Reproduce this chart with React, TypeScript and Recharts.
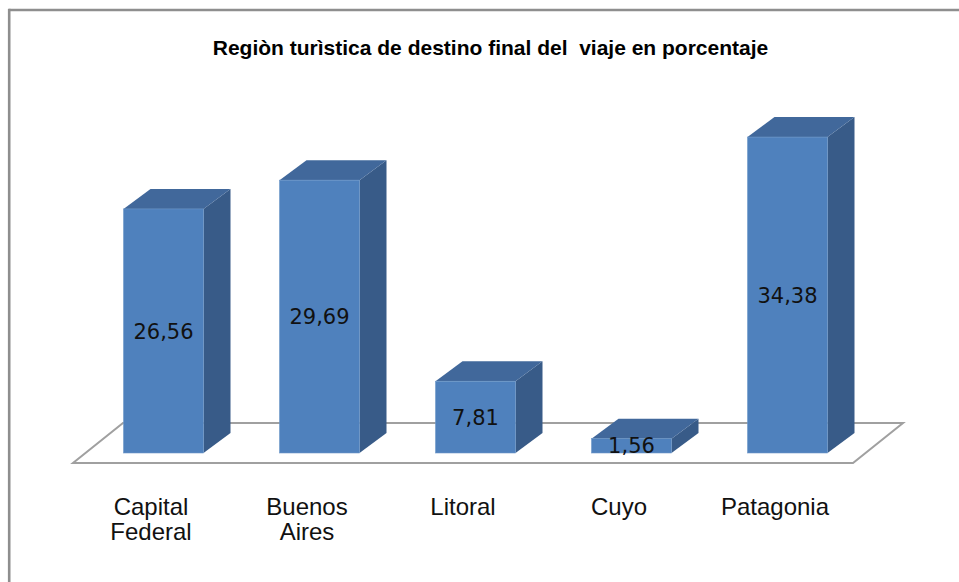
import React from "react";
import { BarChart, Bar, XAxis, YAxis, LabelList, ReferenceArea } from "recharts";

const regions = ["Capital Federal", "Buenos Aires", "Litoral", "Cuyo", "Patagonia"];
const percents = [26.56, 29.69, 7.81, 1.56, 34.38];
const titleText = "Regiòn turìstica de destino final del  viaje en porcentaje";

const data = regions.map((region, i) => ({ region, value: percents[i] }));

const W = 959;
const H = 582;

// 3D geometry (pixel offsets of the oblique projection)
const FRONT_DX = 12.5;
const FRONT_DY = -10;
const BAR_DX = 27;
const BAR_DY = -20;
const FLOOR_DX = 50;
const FLOOR_DY = -40;

const FRONT = "#4F81BD";
const TOP = "#41689B";
const SIDE = "#385B88";

const Bar3D = (props: any) => {
  const { x, y, width, height } = props;
  if (width == null || height == null) return null;
  const x0 = x + FRONT_DX;
  const y0 = y + FRONT_DY;
  const w = width;
  const h = height;
  const top = `${x0},${y0} ${x0 + w},${y0} ${x0 + w + BAR_DX},${y0 + BAR_DY} ${x0 + BAR_DX},${y0 + BAR_DY}`;
  const side = `${x0 + w},${y0} ${x0 + w + BAR_DX},${y0 + BAR_DY} ${x0 + w + BAR_DX},${y0 + h + BAR_DY} ${x0 + w},${y0 + h}`;
  return (
    <g>
      <polygon points={side} fill={SIDE} />
      <polygon points={top} fill={TOP} />
      <rect x={x0} y={y0} width={w} height={h} fill={FRONT} stroke="#6F98C9" strokeWidth={0.6} />
    </g>
  );
};

const Floor = (props: any) => {
  const { x, y, width, height } = props;
  const bottom = Math.max(y, y + height);
  const left = x;
  const right = x + width;
  const pts = `${left},${bottom} ${right},${bottom} ${right + FLOOR_DX},${bottom + FLOOR_DY} ${left + FLOOR_DX},${bottom + FLOOR_DY}`;
  return <polygon points={pts} fill="#ffffff" stroke="#A0A0A0" strokeWidth={2} />;
};

const renderValue = (props: any) => {
  const { x, y, width, height, value } = props;
  const cx = x + FRONT_DX + width / 2;
  const cy = y + FRONT_DY + height / 2;
  return (
    <text
      x={cx}
      y={cy + 7.6}
      textAnchor="middle"
      fontFamily="'DejaVu Sans', sans-serif"
      fontSize={21}
      fill="#111"
    >
      {Number(value).toFixed(2).replace(".", ",")}
    </text>
  );
};

const CategoryTick = (props: any) => {
  const { x, y, payload } = props;
  const words = String(payload.value).split(" ");
  return (
    <text
      x={x}
      y={y}
      textAnchor="middle"
      fontFamily="'Liberation Sans', Arial, sans-serif"
      fontSize={24}
      fill="#111"
    >
      {words.map((wd, i) => (
        <tspan key={i} x={x} y={y + 52 + i * 25}>
          {wd}
        </tspan>
      ))}
    </text>
  );
};

export default function App() {
  return (
    <div style={{ position: "absolute", left: 0, top: 0, width: W, height: H, background: "#fff" }}>
      <svg width={W} height={H} style={{ position: "absolute", left: 0, top: 0 }}>
        <line x1={9.2} y1={10} x2={W} y2={10} stroke="#8E8E8E" strokeWidth={2.6} />
        <line x1={9.2} y1={8.7} x2={9.2} y2={H} stroke="#8E8E8E" strokeWidth={2.6} />
        <text
          x={490.5}
          y={55}
          textAnchor="middle"
          fontFamily="'Liberation Sans', Arial, sans-serif"
          fontWeight="bold"
          fontSize={21}
          fill="#000"
          style={{ whiteSpace: "pre" }}
        >
          {titleText}
        </text>
      </svg>
      <div style={{ position: "absolute", left: 0, top: 0 }}>
        <BarChart
          width={W}
          height={H}
          data={data}
          margin={{ top: 95.4, right: 106, bottom: 0, left: 73 }}
          barSize={80}
        >
          <XAxis
            dataKey="region"
            interval={0}
            height={119}
            axisLine={false}
            tickLine={false}
            tickSize={0}
            tickMargin={0}
            tick={<CategoryTick />}
          />
          <YAxis hide domain={[0, 40]} />
          <ReferenceArea y1={0} shape={<Floor />} fillOpacity={1} />
          <Bar dataKey="value" shape={<Bar3D />} isAnimationActive={false}>
            <LabelList dataKey="value" content={renderValue} />
          </Bar>
        </BarChart>
      </div>
    </div>
  );
}
